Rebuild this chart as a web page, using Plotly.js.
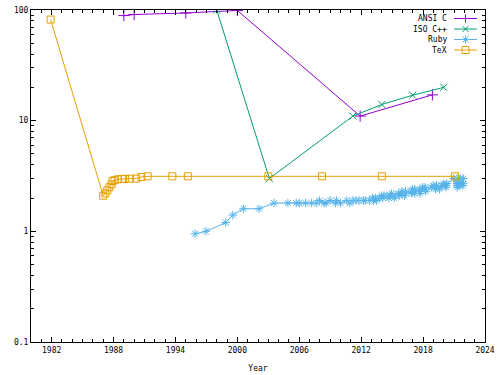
<!DOCTYPE html>
<html>
<head>
<meta charset="utf-8">
<script src="https://cdn.plot.ly/plotly-3.0.1.min.js"></script>
<style>html,body{margin:0;padding:0;background:#fff;}#chart{width:500px;height:375px;}</style>
</head>
<body>
<div id="chart"></div>
<script>
// ANSI C
const ansiYears = [1989, 1990, 1995, 2000, 2011.9, 2018.9];
const ansiVals  = [89, 91, 94, 99, 11, 17.1];
// ISO C++
const cppYears = [1998, 2003.1, 2011.2, 2014, 2017, 2020];
const cppVals  = [100, 3, 11, 14, 17, 20];
// Ruby
const rubyYears = [1995.9, 1996.96, 1998.87, 1999.55, 2000.58, 2002.1, 2003.55, 2004.9, 2005.7, 2006.0,
  2006.6, 2007.2, 2007.7, 2007.95, 2008.4, 2008.6, 2009.0, 2009.5, 2009.6, 2010.0,
  2010.6, 2010.9, 2011.2, 2011.5, 2011.8, 2012.2, 2012.4, 2012.8, 2013.1, 2013.2,
  2013.4, 2013.5, 2013.8, 2013.95, 2014.1, 2014.2, 2014.5, 2014.7, 2014.8, 2014.95,
  2015.2, 2015.3, 2015.6, 2015.7, 2015.9, 2015.95, 2016.2, 2016.3, 2016.3, 2016.9,
  2016.9, 2016.97, 2017.2, 2017.2, 2017.2, 2017.7, 2017.7, 2017.7, 2017.95, 2018.2,
  2018.2, 2018.25, 2018.8, 2018.97, 2019.2, 2019.25, 2019.3, 2019.6, 2019.8, 2019.97,
  2020.2, 2020.25, 2020.3, 2020.97, 2021.3, 2021.3, 2021.3, 2021.3, 2021.55, 2021.6,
  2021.6, 2021.85, 2021.9, 2021.9];
const rubyVals = [0.95, 1.0, 1.2, 1.4, 1.6, 1.6, 1.8, 1.8, 1.8, 1.8,
  1.8, 1.8, 1.8, 1.9, 1.8, 1.8, 1.9, 1.8, 1.9, 1.8,
  1.9, 1.8, 1.9, 1.9, 1.9, 1.9, 1.9, 1.9, 2.0, 1.9,
  2.0, 1.9, 2.0, 2.1, 2.0, 2.1, 2.1, 2.0, 2.1, 2.2,
  2.0, 2.1, 2.2, 2.1, 2.2, 2.3, 2.1, 2.2, 2.3, 2.2,
  2.3, 2.4, 2.4, 2.3, 2.2, 2.4, 2.3, 2.2, 2.5, 2.4,
  2.5, 2.3, 2.5, 2.6, 2.4, 2.5, 2.6, 2.4, 2.6, 2.7,
  2.5, 2.6, 2.7, 3.0, 2.5, 2.6, 2.7, 3.0, 2.6, 2.7,
  3.0, 2.6, 2.7, 3.0];
// TeX
const texYears = [1981.9, 1987.0, 1987.2, 1987.4, 1987.6, 1987.8, 1987.9, 1988.1, 1988.4, 1988.8,
  1989.1, 1989.6, 1990.2, 1990.7, 1991.3, 1993.7, 1995.2, 2003.0, 2008.2, 2014.0, 2021.1];
const texVals = [82, 2.1, 2.2, 2.35, 2.5, 2.65, 2.85, 2.9, 2.95, 2.97,
  2.98, 2.99, 3.0, 3.1, 3.14, 3.1415, 3.14159, 3.141592, 3.1415926, 3.14159265, 3.141592653];

const seriesNames = ['ANSI C', 'ISO C++', 'Ruby', 'TeX'];
const xTicks = [1982, 1988, 1994, 2000, 2006, 2012, 2018, 2024];
const yTicks = [0.1, 1, 10, 100];
const yTickText = ['0.1', '1', '10', '100'];

const FONT = {family: 'DejaVu Sans Mono, monospace', size: 8, color: '#000'};
const COLORS = ['#9400d3', '#009e73', '#56b4e9', '#e69f00'];
const SYMBOLS = ['cross-thin-open', 'x-thin-open', 'asterisk-open', 'square-open'];
const SIZES = [8, 7, 7, 7];
const GLYPHS = ['plus', 'x', 'star', 'square'];

function tr(i, x, y) {
  return {
    type: 'scatter', mode: 'lines+markers', name: seriesNames[i], x: x, y: y,
    showlegend: false,
    line: {color: COLORS[i], width: 1},
    marker: {symbol: SYMBOLS[i], size: SIZES[i], color: COLORS[i], line: {color: COLORS[i], width: 1}}
  };
}

const data = [
  tr(0, ansiYears, ansiVals),
  tr(1, cppYears, cppVals),
  tr(2, rubyYears, rubyVals),
  tr(3, texYears, texVals)
];

// Gnuplot-style key (text right-aligned, sample to the right)
const W = 500, H = 375, M = {l: 31, r: 15, t: 10, b: 33};
const PW = W - M.l - M.r, PH = H - M.t - M.b;
const px2x = p => (p - M.l) / PW;
const py2y = p => (H - M.b - p) / PH;
const keyTextRight = 449, keySampleL = 454, keySampleR = 477, keyTop = 18.5, keyStep = 10.5;
const annotations = [], shapes = [];
seriesNames.forEach((name, i) => {
  const yc = py2y(keyTop + i * keyStep);
  annotations.push({xref: 'paper', yref: 'paper', x: px2x(keyTextRight), y: yc,
    xanchor: 'right', yanchor: 'middle', text: name, showarrow: false, font: FONT});
  const c = COLORS[i];
  const seg = (x0, y0, x1, y1) => shapes.push({type: 'line', xref: 'paper', yref: 'paper',
    xsizemode: 'pixel', ysizemode: 'pixel', xanchor: px2x((keySampleL + keySampleR) / 2), yanchor: yc,
    x0: x0, y0: y0, x1: x1, y1: y1, line: {color: c, width: 1}});
  const half = (keySampleR - keySampleL) / 2;
  seg(-half, 0, half, 0);
  const g = GLYPHS[i];
  if (g === 'plus' || g === 'star') { seg(-4, 0, 4, 0); seg(0, -4, 0, 4); }
  if (g === 'x' || g === 'star') { seg(-3, -3, 3, 3); seg(-3, 3, 3, -3); }
  if (g === 'square') {
    shapes.push({type: 'rect', xref: 'paper', yref: 'paper', xsizemode: 'pixel', ysizemode: 'pixel',
      xanchor: px2x((keySampleL + keySampleR) / 2), yanchor: yc, x0: -3.5, x1: 3.5, y0: -3.5, y1: 3.5,
      line: {color: c, width: 1}, fillcolor: 'rgba(0,0,0,0)'});
  }
});

const layout = {
  width: W, height: H,
  margin: M,
  paper_bgcolor: '#fff', plot_bgcolor: '#fff',
  font: FONT,
  showlegend: false,
  annotations: annotations,
  shapes: shapes,
  xaxis: {
    range: [1980, 2024], tickvals: xTicks, ticktext: xTicks.map(String),
    showgrid: false, zeroline: false, showline: true, linecolor: '#000', linewidth: 1,
    mirror: 'allticks', ticks: 'inside', ticklen: 5, tickcolor: '#000',
    minor: {dtick: 1, tick0: 1980, ticks: 'inside', ticklen: 3, tickcolor: '#000', showgrid: false},
    title: {text: 'Year', font: FONT, standoff: 11},
    tickfont: FONT
  },
  yaxis: {
    type: 'log', range: [-1, 2], tickvals: yTicks, ticktext: yTickText,
    showgrid: false, zeroline: false, showline: true, linecolor: '#000', linewidth: 1,
    mirror: 'allticks', ticks: 'inside', ticklen: 5, tickcolor: '#000',
    minor: {dtick: 'D1', ticks: 'inside', ticklen: 3, tickcolor: '#000', showgrid: false},
    tickfont: FONT
  }
};

Plotly.newPlot('chart', data, layout, {displayModeBar: false, staticPlot: true});
</script>
</body>
</html>
